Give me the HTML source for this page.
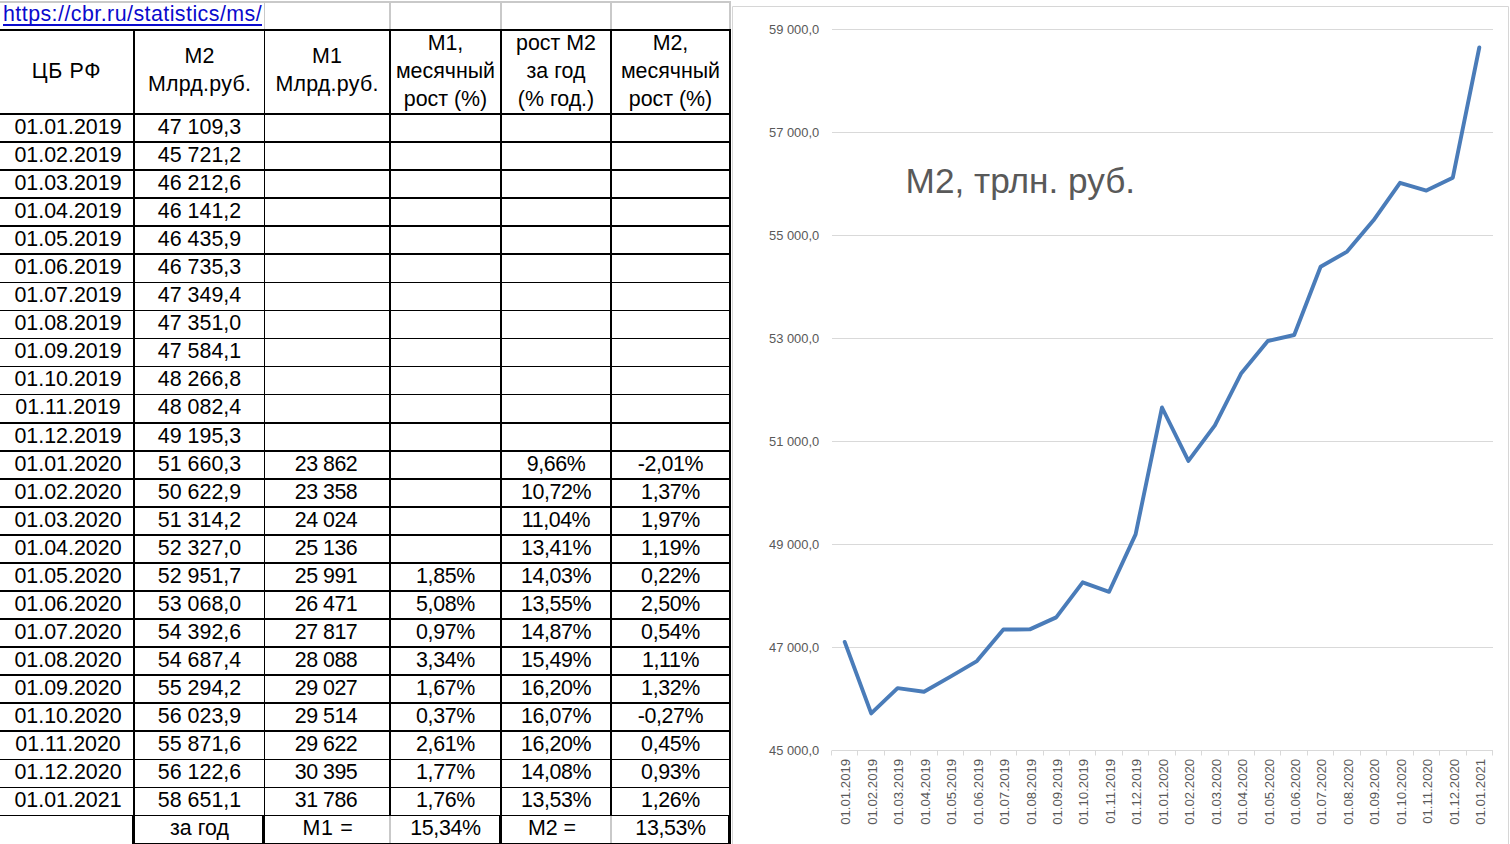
<!DOCTYPE html>
<html><head><meta charset="utf-8"><title>М2</title>
<style>html,body{margin:0;padding:0;background:#fff}
body{width:1510px;height:844px;position:relative;overflow:hidden;font-family:"Liberation Sans",Arial,sans-serif;color:#000}
.l{position:absolute;background:#000}
.g{position:absolute;background:#c9c9c9}
.c{position:absolute;height:28px;line-height:28px;font-size:21.4px;text-align:center;white-space:nowrap}
.h{position:absolute;line-height:28px;font-size:21.4px;text-align:center;white-space:nowrap}
#url{position:absolute;left:3px;top:0px;letter-spacing:0.45px;font-size:21.4px;line-height:28px;color:#0a0acd;white-space:nowrap}
svg{position:absolute;left:0;top:0}
svg text{font-family:"Liberation Sans",Arial,sans-serif;fill:#595959}
</style></head><body>
<div class="g" style="left:0;top:1px;width:731px;height:2px"></div><div class="g" style="left:264px;top:3px;width:1px;height:26px"></div><div class="g" style="left:389px;top:3px;width:2px;height:26px"></div><div class="g" style="left:500px;top:3px;width:2px;height:26px"></div><div class="g" style="left:610px;top:3px;width:2px;height:26px"></div><div class="g" style="left:729px;top:3px;width:2px;height:26px"></div><div class="l" style="left:0;top:29px;width:731px;height:2px"></div><div class="l" style="left:0;top:113px;width:731px;height:2px"></div><div class="l" style="left:0;top:141px;width:731px;height:2px"></div><div class="l" style="left:0;top:169px;width:731px;height:2px"></div><div class="l" style="left:0;top:197px;width:731px;height:2px"></div><div class="l" style="left:0;top:225px;width:731px;height:2px"></div><div class="l" style="left:0;top:253px;width:731px;height:2px"></div><div class="l" style="left:0;top:282px;width:731px;height:1px"></div><div class="l" style="left:0;top:310px;width:731px;height:1px"></div><div class="l" style="left:0;top:338px;width:731px;height:1px"></div><div class="l" style="left:0;top:366px;width:731px;height:1px"></div><div class="l" style="left:0;top:394px;width:731px;height:1px"></div><div class="l" style="left:0;top:422px;width:731px;height:2px"></div><div class="l" style="left:0;top:450px;width:731px;height:2px"></div><div class="l" style="left:0;top:478px;width:731px;height:2px"></div><div class="l" style="left:0;top:506px;width:731px;height:2px"></div><div class="l" style="left:0;top:534px;width:731px;height:2px"></div><div class="l" style="left:0;top:562px;width:731px;height:2px"></div><div class="l" style="left:0;top:590px;width:731px;height:2px"></div><div class="l" style="left:0;top:618px;width:731px;height:2px"></div><div class="l" style="left:0;top:646px;width:731px;height:2px"></div><div class="l" style="left:0;top:674px;width:731px;height:2px"></div><div class="l" style="left:0;top:702px;width:731px;height:2px"></div><div class="l" style="left:0;top:730px;width:731px;height:2px"></div><div class="l" style="left:0;top:759px;width:731px;height:1px"></div><div class="l" style="left:0;top:787px;width:731px;height:1px"></div><div class="l" style="left:0;top:815px;width:731px;height:1px"></div><div class="l" style="left:133px;top:29px;width:2px;height:787px"></div><div class="l" style="left:264px;top:29px;width:1px;height:787px"></div><div class="l" style="left:389px;top:29px;width:2px;height:787px"></div><div class="l" style="left:500px;top:29px;width:2px;height:787px"></div><div class="l" style="left:610px;top:29px;width:2px;height:787px"></div><div class="l" style="left:729px;top:29px;width:2px;height:787px"></div><div class="l" style="left:132px;top:843px;width:599px;height:1px"></div><div class="l" style="left:132px;top:815px;width:3px;height:29px"></div><div class="l" style="left:262px;top:815px;width:3px;height:29px"></div><div class="l" style="left:499px;top:815px;width:3px;height:29px"></div><div class="l" style="left:728px;top:815px;width:3px;height:29px"></div><div class="g" style="left:389px;top:816px;width:2px;height:27px"></div><div class="g" style="left:610px;top:816px;width:2px;height:27px"></div>
<div id="url">https://cbr.ru/statistics/ms/</div><div style="position:absolute;left:3px;top:24px;width:259px;height:2px;background:#0a0acd"></div>
<div class="h" style="left:0px;top:57px;width:133px;letter-spacing:0.7px">ЦБ РФ</div>
<div class="h" style="left:135px;top:42px;width:129px;letter-spacing:0.25px">М2<br>Млрд.руб.</div>
<div class="h" style="left:265px;top:42px;width:124px;letter-spacing:0.25px">М1<br>Млрд.руб.</div>
<div class="h" style="left:391px;top:29px;width:109px">М1,<br>месячный<br>рост (%)</div>
<div class="h" style="left:502px;top:29px;width:108px">рост М2<br>за год<br>(% год.)</div>
<div class="h" style="left:612px;top:29px;width:117px">М2,<br>месячный<br>рост (%)</div>
<div class="c" style="left:1.5px;top:113px;width:133px">01.01.2019</div><div class="c" style="left:135px;top:113px;width:129px">47 109,3</div>
<div class="c" style="left:1.5px;top:141px;width:133px">01.02.2019</div><div class="c" style="left:135px;top:141px;width:129px">45 721,2</div>
<div class="c" style="left:1.5px;top:169px;width:133px">01.03.2019</div><div class="c" style="left:135px;top:169px;width:129px">46 212,6</div>
<div class="c" style="left:1.5px;top:197px;width:133px">01.04.2019</div><div class="c" style="left:135px;top:197px;width:129px">46 141,2</div>
<div class="c" style="left:1.5px;top:225px;width:133px">01.05.2019</div><div class="c" style="left:135px;top:225px;width:129px">46 435,9</div>
<div class="c" style="left:1.5px;top:253px;width:133px">01.06.2019</div><div class="c" style="left:135px;top:253px;width:129px">46 735,3</div>
<div class="c" style="left:1.5px;top:281px;width:133px">01.07.2019</div><div class="c" style="left:135px;top:281px;width:129px">47 349,4</div>
<div class="c" style="left:1.5px;top:309px;width:133px">01.08.2019</div><div class="c" style="left:135px;top:309px;width:129px">47 351,0</div>
<div class="c" style="left:1.5px;top:337px;width:133px">01.09.2019</div><div class="c" style="left:135px;top:337px;width:129px">47 584,1</div>
<div class="c" style="left:1.5px;top:365px;width:133px">01.10.2019</div><div class="c" style="left:135px;top:365px;width:129px">48 266,8</div>
<div class="c" style="left:1.5px;top:393px;width:133px">01.11.2019</div><div class="c" style="left:135px;top:393px;width:129px">48 082,4</div>
<div class="c" style="left:1.5px;top:422px;width:133px">01.12.2019</div><div class="c" style="left:135px;top:422px;width:129px">49 195,3</div>
<div class="c" style="left:1.5px;top:450px;width:133px">01.01.2020</div><div class="c" style="left:135px;top:450px;width:129px">51 660,3</div><div class="c" style="left:264px;top:450px;width:124px;letter-spacing:-0.5px">23 862</div><div class="c" style="left:502px;top:450px;width:108px;letter-spacing:-0.42px">9,66%</div><div class="c" style="left:612px;top:450px;width:117px;letter-spacing:-0.38px">-2,01%</div>
<div class="c" style="left:1.5px;top:478px;width:133px">01.02.2020</div><div class="c" style="left:135px;top:478px;width:129px">50 622,9</div><div class="c" style="left:264px;top:478px;width:124px;letter-spacing:-0.5px">23 358</div><div class="c" style="left:502px;top:478px;width:108px;letter-spacing:-0.42px">10,72%</div><div class="c" style="left:612px;top:478px;width:117px;letter-spacing:-0.38px">1,37%</div>
<div class="c" style="left:1.5px;top:506px;width:133px">01.03.2020</div><div class="c" style="left:135px;top:506px;width:129px">51 314,2</div><div class="c" style="left:264px;top:506px;width:124px;letter-spacing:-0.5px">24 024</div><div class="c" style="left:502px;top:506px;width:108px;letter-spacing:-0.42px">11,04%</div><div class="c" style="left:612px;top:506px;width:117px;letter-spacing:-0.38px">1,97%</div>
<div class="c" style="left:1.5px;top:534px;width:133px">01.04.2020</div><div class="c" style="left:135px;top:534px;width:129px">52 327,0</div><div class="c" style="left:264px;top:534px;width:124px;letter-spacing:-0.5px">25 136</div><div class="c" style="left:502px;top:534px;width:108px;letter-spacing:-0.42px">13,41%</div><div class="c" style="left:612px;top:534px;width:117px;letter-spacing:-0.38px">1,19%</div>
<div class="c" style="left:1.5px;top:562px;width:133px">01.05.2020</div><div class="c" style="left:135px;top:562px;width:129px">52 951,7</div><div class="c" style="left:264px;top:562px;width:124px;letter-spacing:-0.5px">25 991</div><div class="c" style="left:391px;top:562px;width:109px;letter-spacing:-0.35px">1,85%</div><div class="c" style="left:502px;top:562px;width:108px;letter-spacing:-0.42px">14,03%</div><div class="c" style="left:612px;top:562px;width:117px;letter-spacing:-0.38px">0,22%</div>
<div class="c" style="left:1.5px;top:590px;width:133px">01.06.2020</div><div class="c" style="left:135px;top:590px;width:129px">53 068,0</div><div class="c" style="left:264px;top:590px;width:124px;letter-spacing:-0.5px">26 471</div><div class="c" style="left:391px;top:590px;width:109px;letter-spacing:-0.35px">5,08%</div><div class="c" style="left:502px;top:590px;width:108px;letter-spacing:-0.42px">13,55%</div><div class="c" style="left:612px;top:590px;width:117px;letter-spacing:-0.38px">2,50%</div>
<div class="c" style="left:1.5px;top:618px;width:133px">01.07.2020</div><div class="c" style="left:135px;top:618px;width:129px">54 392,6</div><div class="c" style="left:264px;top:618px;width:124px;letter-spacing:-0.5px">27 817</div><div class="c" style="left:391px;top:618px;width:109px;letter-spacing:-0.35px">0,97%</div><div class="c" style="left:502px;top:618px;width:108px;letter-spacing:-0.42px">14,87%</div><div class="c" style="left:612px;top:618px;width:117px;letter-spacing:-0.38px">0,54%</div>
<div class="c" style="left:1.5px;top:646px;width:133px">01.08.2020</div><div class="c" style="left:135px;top:646px;width:129px">54 687,4</div><div class="c" style="left:264px;top:646px;width:124px;letter-spacing:-0.5px">28 088</div><div class="c" style="left:391px;top:646px;width:109px;letter-spacing:-0.35px">3,34%</div><div class="c" style="left:502px;top:646px;width:108px;letter-spacing:-0.42px">15,49%</div><div class="c" style="left:612px;top:646px;width:117px;letter-spacing:-0.38px">1,11%</div>
<div class="c" style="left:1.5px;top:674px;width:133px">01.09.2020</div><div class="c" style="left:135px;top:674px;width:129px">55 294,2</div><div class="c" style="left:264px;top:674px;width:124px;letter-spacing:-0.5px">29 027</div><div class="c" style="left:391px;top:674px;width:109px;letter-spacing:-0.35px">1,67%</div><div class="c" style="left:502px;top:674px;width:108px;letter-spacing:-0.42px">16,20%</div><div class="c" style="left:612px;top:674px;width:117px;letter-spacing:-0.38px">1,32%</div>
<div class="c" style="left:1.5px;top:702px;width:133px">01.10.2020</div><div class="c" style="left:135px;top:702px;width:129px">56 023,9</div><div class="c" style="left:264px;top:702px;width:124px;letter-spacing:-0.5px">29 514</div><div class="c" style="left:391px;top:702px;width:109px;letter-spacing:-0.35px">0,37%</div><div class="c" style="left:502px;top:702px;width:108px;letter-spacing:-0.42px">16,07%</div><div class="c" style="left:612px;top:702px;width:117px;letter-spacing:-0.38px">-0,27%</div>
<div class="c" style="left:1.5px;top:730px;width:133px">01.11.2020</div><div class="c" style="left:135px;top:730px;width:129px">55 871,6</div><div class="c" style="left:264px;top:730px;width:124px;letter-spacing:-0.5px">29 622</div><div class="c" style="left:391px;top:730px;width:109px;letter-spacing:-0.35px">2,61%</div><div class="c" style="left:502px;top:730px;width:108px;letter-spacing:-0.42px">16,20%</div><div class="c" style="left:612px;top:730px;width:117px;letter-spacing:-0.38px">0,45%</div>
<div class="c" style="left:1.5px;top:758px;width:133px">01.12.2020</div><div class="c" style="left:135px;top:758px;width:129px">56 122,6</div><div class="c" style="left:264px;top:758px;width:124px;letter-spacing:-0.5px">30 395</div><div class="c" style="left:391px;top:758px;width:109px;letter-spacing:-0.35px">1,77%</div><div class="c" style="left:502px;top:758px;width:108px;letter-spacing:-0.42px">14,08%</div><div class="c" style="left:612px;top:758px;width:117px;letter-spacing:-0.38px">0,93%</div>
<div class="c" style="left:1.5px;top:786px;width:133px">01.01.2021</div><div class="c" style="left:135px;top:786px;width:129px">58 651,1</div><div class="c" style="left:264px;top:786px;width:124px;letter-spacing:-0.5px">31 786</div><div class="c" style="left:391px;top:786px;width:109px;letter-spacing:-0.35px">1,76%</div><div class="c" style="left:502px;top:786px;width:108px;letter-spacing:-0.42px">13,53%</div><div class="c" style="left:612px;top:786px;width:117px;letter-spacing:-0.38px">1,26%</div>
<div class="c" style="left:135px;top:814px;width:129px">за год</div><div class="c" style="left:266px;top:814px;width:124px;letter-spacing:0.7px">М1 =</div><div class="c" style="left:391px;top:814px;width:109px;letter-spacing:-0.35px">15,34%</div><div class="c" style="left:498px;top:814px;width:108px">М2 =</div><div class="c" style="left:612px;top:814px;width:117px;letter-spacing:-0.38px">13,53%</div>
<svg width="1510" height="844" viewBox="0 0 1510 844">
<path d="M732.5 844V6.5H1508.5V844" fill="none" stroke="#d6d6d6" stroke-width="1"/>
<line x1="832" x2="1493" y1="29.5" y2="29.5" stroke="#d9d9d9" stroke-width="1"/><text x="819.2" y="34.0" font-size="12.9" text-anchor="end">59 000,0</text>
<line x1="832" x2="1493" y1="132.5" y2="132.5" stroke="#d9d9d9" stroke-width="1"/><text x="819.2" y="137.0" font-size="12.9" text-anchor="end">57 000,0</text>
<line x1="832" x2="1493" y1="235.5" y2="235.5" stroke="#d9d9d9" stroke-width="1"/><text x="819.2" y="240.0" font-size="12.9" text-anchor="end">55 000,0</text>
<line x1="832" x2="1493" y1="338.5" y2="338.5" stroke="#d9d9d9" stroke-width="1"/><text x="819.2" y="343.0" font-size="12.9" text-anchor="end">53 000,0</text>
<line x1="832" x2="1493" y1="441.5" y2="441.5" stroke="#d9d9d9" stroke-width="1"/><text x="819.2" y="446.0" font-size="12.9" text-anchor="end">51 000,0</text>
<line x1="832" x2="1493" y1="544.5" y2="544.5" stroke="#d9d9d9" stroke-width="1"/><text x="819.2" y="549.0" font-size="12.9" text-anchor="end">49 000,0</text>
<line x1="832" x2="1493" y1="647.5" y2="647.5" stroke="#d9d9d9" stroke-width="1"/><text x="819.2" y="652.0" font-size="12.9" text-anchor="end">47 000,0</text>
<line x1="832" x2="1493" y1="750.5" y2="750.5" stroke="#d9d9d9" stroke-width="1"/><text x="819.2" y="755.0" font-size="12.9" text-anchor="end">45 000,0</text>
<line x1="831.5" x2="831.5" y1="750.5" y2="755.5" stroke="#d9d9d9" stroke-width="1"/><line x1="857.5" x2="857.5" y1="750.5" y2="755.5" stroke="#d9d9d9" stroke-width="1"/><line x1="884.5" x2="884.5" y1="750.5" y2="755.5" stroke="#d9d9d9" stroke-width="1"/><line x1="910.5" x2="910.5" y1="750.5" y2="755.5" stroke="#d9d9d9" stroke-width="1"/><line x1="937.5" x2="937.5" y1="750.5" y2="755.5" stroke="#d9d9d9" stroke-width="1"/><line x1="963.5" x2="963.5" y1="750.5" y2="755.5" stroke="#d9d9d9" stroke-width="1"/><line x1="990.5" x2="990.5" y1="750.5" y2="755.5" stroke="#d9d9d9" stroke-width="1"/><line x1="1016.5" x2="1016.5" y1="750.5" y2="755.5" stroke="#d9d9d9" stroke-width="1"/><line x1="1043.5" x2="1043.5" y1="750.5" y2="755.5" stroke="#d9d9d9" stroke-width="1"/><line x1="1069.5" x2="1069.5" y1="750.5" y2="755.5" stroke="#d9d9d9" stroke-width="1"/><line x1="1095.5" x2="1095.5" y1="750.5" y2="755.5" stroke="#d9d9d9" stroke-width="1"/><line x1="1122.5" x2="1122.5" y1="750.5" y2="755.5" stroke="#d9d9d9" stroke-width="1"/><line x1="1148.5" x2="1148.5" y1="750.5" y2="755.5" stroke="#d9d9d9" stroke-width="1"/><line x1="1175.5" x2="1175.5" y1="750.5" y2="755.5" stroke="#d9d9d9" stroke-width="1"/><line x1="1201.5" x2="1201.5" y1="750.5" y2="755.5" stroke="#d9d9d9" stroke-width="1"/><line x1="1228.5" x2="1228.5" y1="750.5" y2="755.5" stroke="#d9d9d9" stroke-width="1"/><line x1="1254.5" x2="1254.5" y1="750.5" y2="755.5" stroke="#d9d9d9" stroke-width="1"/><line x1="1280.5" x2="1280.5" y1="750.5" y2="755.5" stroke="#d9d9d9" stroke-width="1"/><line x1="1307.5" x2="1307.5" y1="750.5" y2="755.5" stroke="#d9d9d9" stroke-width="1"/><line x1="1333.5" x2="1333.5" y1="750.5" y2="755.5" stroke="#d9d9d9" stroke-width="1"/><line x1="1360.5" x2="1360.5" y1="750.5" y2="755.5" stroke="#d9d9d9" stroke-width="1"/><line x1="1386.5" x2="1386.5" y1="750.5" y2="755.5" stroke="#d9d9d9" stroke-width="1"/><line x1="1413.5" x2="1413.5" y1="750.5" y2="755.5" stroke="#d9d9d9" stroke-width="1"/><line x1="1439.5" x2="1439.5" y1="750.5" y2="755.5" stroke="#d9d9d9" stroke-width="1"/><line x1="1466.5" x2="1466.5" y1="750.5" y2="755.5" stroke="#d9d9d9" stroke-width="1"/><line x1="1492.5" x2="1492.5" y1="750.5" y2="755.5" stroke="#d9d9d9" stroke-width="1"/>
<polyline points="844.7,641.9 871.2,713.4 897.6,688.1 924.0,691.7 950.5,676.6 976.9,661.1 1003.4,629.5 1029.8,629.4 1056.2,617.4 1082.7,582.3 1109.1,591.8 1135.6,534.4 1162.0,407.5 1188.4,460.9 1214.9,425.3 1241.3,373.2 1267.8,341.0 1294.2,335.0 1320.6,266.8 1347.1,251.6 1373.5,220.3 1400.0,182.8 1426.4,190.6 1452.8,177.7 1479.3,47.5" fill="none" stroke="#4a7cb9" stroke-width="3.9" stroke-linejoin="round" stroke-linecap="round"/>
<text transform="translate(850.4,758.8) rotate(-90)" font-size="13.2" text-anchor="end">01.01.2019</text><text transform="translate(876.9,758.8) rotate(-90)" font-size="13.2" text-anchor="end">01.02.2019</text><text transform="translate(903.3,758.8) rotate(-90)" font-size="13.2" text-anchor="end">01.03.2019</text><text transform="translate(929.7,758.8) rotate(-90)" font-size="13.2" text-anchor="end">01.04.2019</text><text transform="translate(956.2,758.8) rotate(-90)" font-size="13.2" text-anchor="end">01.05.2019</text><text transform="translate(982.6,758.8) rotate(-90)" font-size="13.2" text-anchor="end">01.06.2019</text><text transform="translate(1009.1,758.8) rotate(-90)" font-size="13.2" text-anchor="end">01.07.2019</text><text transform="translate(1035.5,758.8) rotate(-90)" font-size="13.2" text-anchor="end">01.08.2019</text><text transform="translate(1061.9,758.8) rotate(-90)" font-size="13.2" text-anchor="end">01.09.2019</text><text transform="translate(1088.4,758.8) rotate(-90)" font-size="13.2" text-anchor="end">01.10.2019</text><text transform="translate(1114.8,758.8) rotate(-90)" font-size="13.2" text-anchor="end">01.11.2019</text><text transform="translate(1141.3,758.8) rotate(-90)" font-size="13.2" text-anchor="end">01.12.2019</text><text transform="translate(1167.7,758.8) rotate(-90)" font-size="13.2" text-anchor="end">01.01.2020</text><text transform="translate(1194.1,758.8) rotate(-90)" font-size="13.2" text-anchor="end">01.02.2020</text><text transform="translate(1220.6,758.8) rotate(-90)" font-size="13.2" text-anchor="end">01.03.2020</text><text transform="translate(1247.0,758.8) rotate(-90)" font-size="13.2" text-anchor="end">01.04.2020</text><text transform="translate(1273.5,758.8) rotate(-90)" font-size="13.2" text-anchor="end">01.05.2020</text><text transform="translate(1299.9,758.8) rotate(-90)" font-size="13.2" text-anchor="end">01.06.2020</text><text transform="translate(1326.3,758.8) rotate(-90)" font-size="13.2" text-anchor="end">01.07.2020</text><text transform="translate(1352.8,758.8) rotate(-90)" font-size="13.2" text-anchor="end">01.08.2020</text><text transform="translate(1379.2,758.8) rotate(-90)" font-size="13.2" text-anchor="end">01.09.2020</text><text transform="translate(1405.7,758.8) rotate(-90)" font-size="13.2" text-anchor="end">01.10.2020</text><text transform="translate(1432.1,758.8) rotate(-90)" font-size="13.2" text-anchor="end">01.11.2020</text><text transform="translate(1458.5,758.8) rotate(-90)" font-size="13.2" text-anchor="end">01.12.2020</text><text transform="translate(1485.0,758.8) rotate(-90)" font-size="13.2" text-anchor="end">01.01.2021</text>
<text x="905.6" y="193.2" font-size="35.2">М2, трлн. руб.</text>
</svg>
</body></html>
